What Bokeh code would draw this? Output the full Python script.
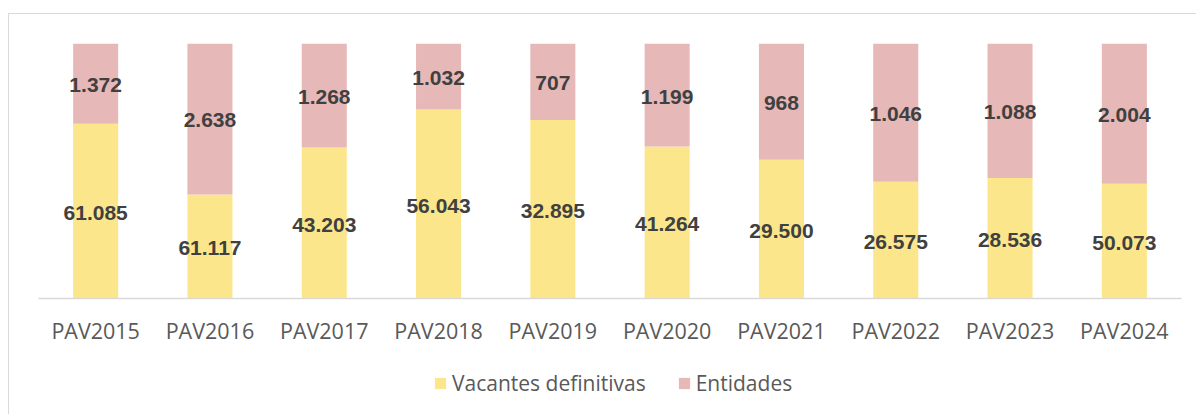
from bokeh.plotting import figure
from bokeh.layouts import column
from bokeh.models import ColumnDataSource, FactorRange, Range1d, Legend, LegendItem
from bokeh.core.properties import value
from bokeh.embed import file_html
from bokeh.resources import INLINE

# ---- data ----
categories = ["PAV2015", "PAV2016", "PAV2017", "PAV2018", "PAV2019",
              "PAV2020", "PAV2021", "PAV2022", "PAV2023", "PAV2024"]
# share of each bar (percent of full height)
vacantes_pct = [68.5, 40.8, 59.2, 74.1, 70.0, 59.6, 54.4, 45.8, 47.3, 45.0]
entidades_pct = [31.5, 59.2, 40.8, 25.9, 30.0, 40.4, 45.6, 54.2, 52.7, 55.0]
# data labels printed on the segments
vacantes_labels = ["61.085", "61.117", "43.203", "56.043", "32.895",
                   "41.264", "29.500", "26.575", "28.536", "50.073"]
entidades_labels = ["1.372", "2.638", "1.268", "1.032", "707",
                    "1.199", "968", "1.046", "1.088", "2.004"]
series_names = ["Vacantes definitivas", "Entidades"]

YELLOW = "#FCE68B"
PINK = "#E6B8B7"

src = ColumnDataSource(dict(
    x=categories,
    vac_top=vacantes_pct,
    ent_top=[v + e for v, e in zip(vacantes_pct, entidades_pct)],
    vac_mid=[v / 2 for v in vacantes_pct],
    ent_mid=[v + e / 2 for v, e in zip(vacantes_pct, entidades_pct)],
    vac_lab=vacantes_labels,
    ent_lab=entidades_labels,
))

p = figure(x_range=FactorRange(*categories), y_range=Range1d(0, 100),
           width=1187, height=336, output_backend="svg", toolbar_location=None,
           min_border_left=29, min_border_right=15, min_border_top=29, min_border_bottom=52)

r1 = p.vbar(x="x", bottom=0, top="vac_top", width=0.394, source=src,
            fill_color=YELLOW, line_color=None)
r2 = p.vbar(x="x", bottom="vac_top", top="ent_top", width=0.394, source=src,
            fill_color=PINK, line_color=None)

common = dict(text_font=value("Liberation Sans"), text_font_style="bold",
              text_font_size="21px", text_color="#404040",
              text_align="center", text_baseline="middle", source=src)
p.text(x="x", y="vac_mid", text="vac_lab", y_offset=1.5, **common)
p.text(x="x", y="ent_mid", text="ent_lab", y_offset=1.5, **common)

p.yaxis.visible = False
p.xgrid.visible = False
p.ygrid.visible = False
p.outline_line_color = None
ax = p.xaxis[0]
ax.axis_line_color = "#D9D9D9"
ax.axis_line_width = 1.5
ax.major_tick_line_color = None
ax.minor_tick_line_color = None
ax.major_label_text_font = "Open Sans"
ax.major_label_text_font_size = "21.5px"
ax.major_label_text_color = "#595959"
ax.major_label_standoff = 11

# legend strip below the chart (swatch renderers sit outside the visible range)
pl = figure(x_range=Range1d(0, 1), y_range=Range1d(0, 1), width=1187, height=64,
            output_backend="svg", toolbar_location=None,
            min_border_left=0, min_border_right=0, min_border_top=0, min_border_bottom=0)
pl.axis.visible = False
pl.grid.visible = False
pl.outline_line_color = None
swatch = ColumnDataSource(dict(x=[-10.0], top=[-10.0]))
l1 = pl.vbar(x="x", top="top", bottom=-11.0, width=0.1, source=swatch,
             fill_color=YELLOW, line_color=None)
l2 = pl.vbar(x="x", top="top", bottom=-11.0, width=0.1, source=swatch,
             fill_color=PINK, line_color=None)
legend = Legend(items=[LegendItem(label=series_names[0], renderers=[l1]),
                       LegendItem(label=series_names[1], renderers=[l2])],
                orientation="horizontal", location=(395, 17),
                glyph_width=14, glyph_height=14, label_standoff=5, spacing=31,
                label_text_font="Open Sans", label_text_font_size="21px",
                label_text_color="#595959", border_line_color=None,
                background_fill_alpha=0, padding=0, margin=0)
pl.add_layout(legend)

layout = column(p, pl, spacing=0, margin=(13, 0, 0, 8),
                styles={"border-top": "1px solid #D9D9D9", "border-left": "1px solid #D9D9D9"})

open("out.html", "w").write(file_html(layout, INLINE))
